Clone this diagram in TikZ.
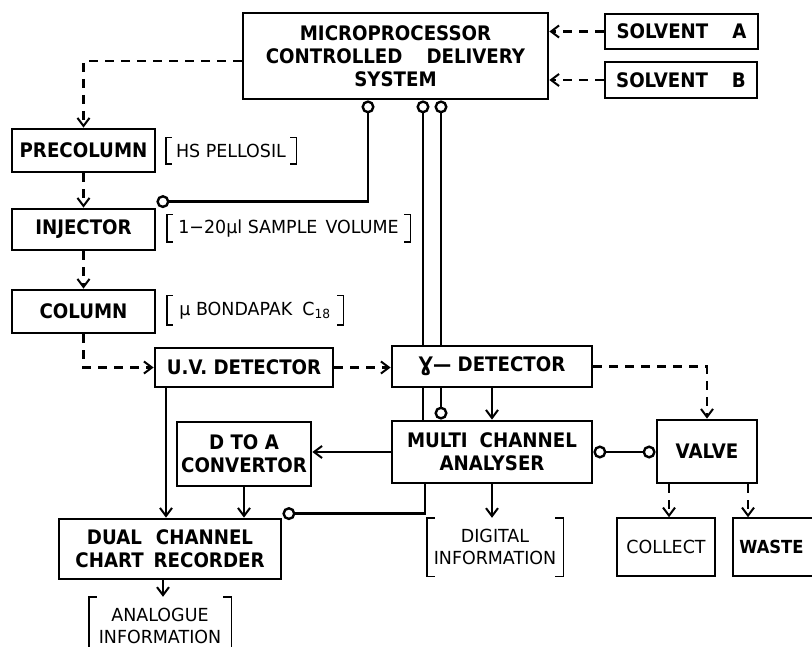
\documentclass[tikz,border=0pt]{standalone}
\usepackage{fontspec}
\setmainfont{DejaVu Sans}
\newfontfamily\bfont{DejaVu Sans}[FakeStretch=0.91]
\newfontfamily\lfont{DejaVu Sans}[FakeStretch=0.97]
\usetikzlibrary{arrows.meta,backgrounds}
\newcommand\brackets[2][6]{%
  \draw[brkline] ([xshift=#1pt]#2.north west) -- (#2.north west) -- (#2.south west) -- ([xshift=#1pt]#2.south west);
  \draw[brkline] ([xshift=-#1pt]#2.north east) -- (#2.north east) -- (#2.south east) -- ([xshift=-#1pt]#2.south east);}
\tikzset{
  box/.style={draw, line width=2.8pt, fill=white, inner sep=0pt, align=center,
    font=\bfont\bfseries\fontsize{20}{23}\selectfont},
  thinbox/.style={draw, line width=1.5pt, inner sep=0pt, align=center,
    font=\lfont\fontsize{18}{22}\selectfont},
  brk/.style={inner sep=0pt, align=center, font=\lfont\fontsize{18}{22}\selectfont},
  brkline/.style={line width=1.4pt},
  barb/.tip={Straight Barb[length=8pt,width=12pt,line width=2pt]},
  ring/.tip={Circle[open,length=13pt,width=13pt,line width=2.4pt]},
  conn/.style={line width=2.3pt},
  dconn/.style={line width=2.3pt, dash pattern=on 9pt off 7pt},
}
\begin{document}
\begin{tikzpicture}[x=1pt,y=-1pt]
\useasboundingbox (0,0) rectangle (812,647);
% main boxes
\node[box, minimum width=305pt, minimum height=86pt] (mp) at (395.5,56)
  {MICROPROCESSOR\\CONTROLLED\hspace{24pt}DELIVERY\\SYSTEM};
\node[box, minimum width=153pt, minimum height=35pt] (sa) at (681.5,31.5) {SOLVENT\hspace{24pt}A};
\node[box, minimum width=152pt, minimum height=36pt] (sb) at (681,80) {SOLVENT\hspace{24pt}B};
\node[box, minimum width=143pt, minimum height=43pt] (pre) at (83.5,150.5) {PRECOLUMN};
\node[box, minimum width=143pt, minimum height=41pt] (inj) at (83.5,229.5) {INJECTOR};
\node[box, minimum width=143pt, minimum height=43pt] (col) at (83.5,311.5) {COLUMN};
\node[box, minimum width=178pt, minimum height=39pt] (uv) at (244,367.5) {U.V. DETECTOR};
\node[box, minimum width=200pt, minimum height=41pt] (gam) at (492,366.5) {Ɣ— DETECTOR};
\node[box, minimum width=200pt, minimum height=62pt] (mca) at (492,452) {MULTI\hspace{12pt}CHANNEL\\ANALYSER};
\node[box, minimum width=100pt, minimum height=63pt] (valve) at (707,451.5) {VALVE};
\node[box, minimum width=134pt, minimum height=64pt] (dta) at (244,454) {D TO A\\CONVERTOR};
\node[box, minimum width=222pt, minimum height=60pt] (dcr) at (170,549) {DUAL\hspace{14pt}CHANNEL\\CHART\hspace{10pt}RECORDER};
\node[thinbox, minimum width=98pt, minimum height=58pt] (coll) at (666,547) {COLLECT};
\node[thinbox, minimum width=87pt, minimum height=58pt, font=\bfont\bfseries\fontsize{18}{22}\selectfont] (waste) at (776.5,547) {WASTE\hspace{10pt}};
% bracketed labels
\node[brk, minimum width=130pt, minimum height=26pt] (hs) at (231,151) {HS PELLOSIL};
\node[brk, minimum width=243pt, minimum height=27pt] (sv) at (288.5,228.5) {1−20µl SAMPLE\hspace{8pt}VOLUME};
\node[brk, minimum width=176pt, minimum height=29pt] (bp) at (255,310.5) {µ BONDAPAK\hspace{10pt}C\textsubscript{18}};
\node[brk, minimum width=136pt, minimum height=58pt] (dig) at (495,547) {DIGITAL\\INFORMATION};
\node[brk, minimum width=142pt, minimum height=58pt] (ana) at (160,626) {ANALOGUE\\INFORMATION};
\brackets{hs}
\brackets{sv}
\brackets{bp}
\brackets[8]{dig}
\brackets[8]{ana}
% control lines passing behind the gamma detector
\begin{scope}[on background layer]
\draw[conn, ring-] (mp.south -| 423,0) -- (mca.north -| 423,0);
\draw[conn, ring-ring] (mp.south -| 441,0) -- (mca.north -| 441,0);
\end{scope}
% flow (dashed)
\draw[dconn, -barb] (sa.west) -- (sa.west -| mp.east);
\draw[dconn, -barb] (sb.west) -- (sb.west -| mp.east);
\draw[dconn, -barb] ([yshift=-5pt]mp.west) -| (pre.north);
\draw[dconn, -barb] (pre.south) -- (inj.north);
\draw[dconn, -barb] (inj.south) -- (col.north);
\draw[dconn, -barb] (col.south) |- (uv.west);
\draw[dconn, -barb] (uv.east) -- (uv.east -| gam.west);
\draw[dconn, -barb] (gam.east) -| (valve.north);
\draw[dconn, -barb] (valve.south -| 669,0) -- (coll.north -| 669,0);
\draw[dconn, -barb] (valve.south -| 748,0) -- (waste.north -| 748,0);
% signal lines
\coordinate (injc) at ([xshift=0pt,yshift=6pt]inj.north east);
\draw[conn, ring-ring] (mp.south -| 368,0) |- (injc);
\draw[conn, -barb] (gam.south) -- (mca.north);
\draw[conn, -barb] (mca.south) -- (mca.south |- dig.north);
\draw[conn, -barb] (mca.west) -- (mca.west -| dta.east);
\draw[conn, -barb] (dta.south) -- (dta.south |- dcr.north);
\draw[conn, -barb] (uv.south -| 166,0) -- (dcr.north -| 166,0);
\draw[conn, -barb] (dcr.south -| 163,0) -- (ana.north -| 163,0);
\coordinate (dcrc) at ([xshift=0pt,yshift=4pt]dcr.north east);
\draw[conn, -ring] (mca.south -| 425,0) |- (dcrc);
\draw[conn, ring-ring] (mca.east) -- (mca.east -| valve.west);
\end{tikzpicture}
\end{document}
